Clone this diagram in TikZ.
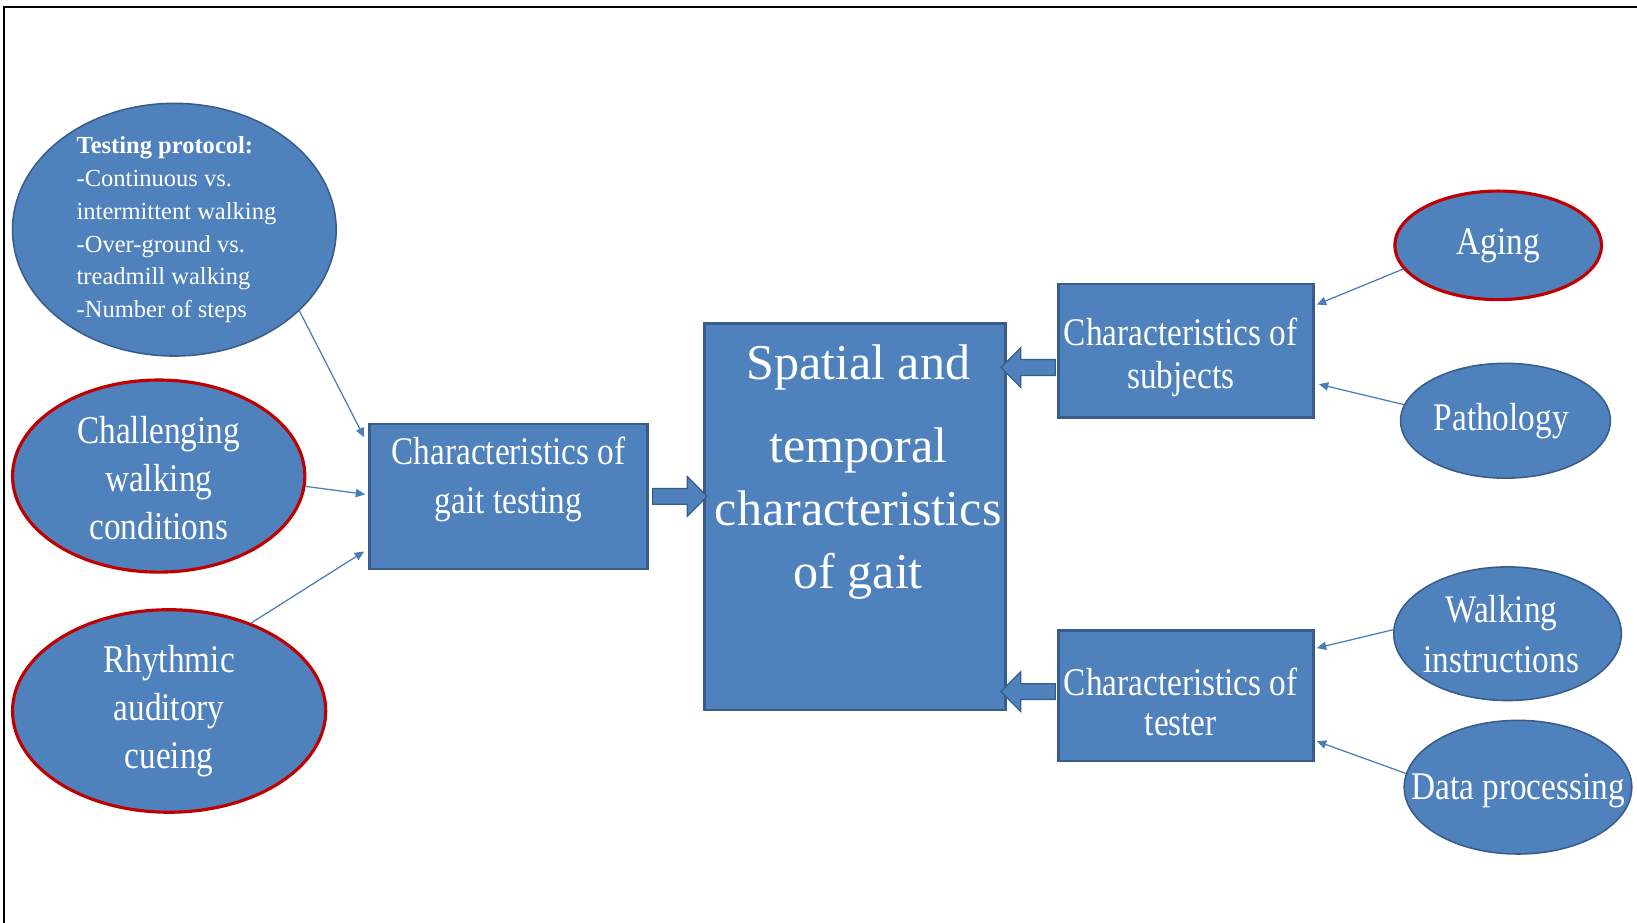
\documentclass[tikz,border=0pt]{standalone}
\usepackage{fontspec}
\setmainfont{Liberation Serif}
\newfontfamily\narrowfont{Liberation Serif}[FakeStretch=0.85]
\usetikzlibrary{shapes.geometric,shapes.arrows,arrows.meta}
\definecolor{boxblue}{HTML}{4F81BD}
\definecolor{edgeblue}{HTML}{385D8A}
\definecolor{ringred}{HTML}{C00000}
\definecolor{lineblue}{HTML}{4A7EBB}
\begin{document}
\begin{tikzpicture}[x=1pt,y=-1pt,
    oval/.style={ellipse,fill=boxblue,draw=edgeblue,line width=1.5pt,inner sep=0pt},
    redoval/.style={oval,draw=ringred,line width=3pt},
    block/.style={rectangle,fill=boxblue,draw=edgeblue,line width=2.5pt,inner sep=0pt},
    txt/.style={text=white,align=center,inner sep=0pt,font=\narrowfont\fontsize{37.5}{46}\selectfont},
    boxtxt/.style={txt,font=\narrowfont\fontsize{37.5}{41}\selectfont},
    feed/.style={draw=lineblue,line width=1.2pt,-{Triangle[length=9pt,width=8pt]}},
    fat/.style={single arrow,fill=boxblue,draw=edgeblue,line width=1.2pt,text height=7pt,text depth=7pt,
        single arrow head extend=11.5pt,minimum height=52pt,inner sep=0pt}]
    \useasboundingbox (0,0) rectangle (1568,884);
    \draw[line width=2pt] (4,884) -- (4,7) -- (1568,7);

    % left side
    \node[oval,minimum width=310pt,minimum height=242pt,
        label={[text=white,align=left,inner sep=0pt,font=\fontsize{23.5}{31.5}\selectfont,xshift=2pt]center:{\textbf{Testing protocol:}\\-Continuous vs.\\intermittent walking\\-Over-ground vs.\\treadmill walking\\-Number of steps}}]
        (proto) at (167,220) {};
    \node[redoval,minimum width=280pt,minimum height=184pt,
        label={[txt,yshift=-2pt]center:{Challenging\\walking\\conditions}}] (chall) at (152,456) {};
    \node[redoval,minimum width=300pt,minimum height=194pt,
        label={[txt]center:{Rhythmic\\auditory\\cueing}}] (rhythm) at (162,681) {};

    % boxes
    \node[block,minimum width=266pt,minimum height=139pt,
        label={[boxtxt,font=\narrowfont\fontsize{37.5}{47}\selectfont,yshift=16pt]center:{Characteristics of\\gait testing}}] (gait) at (487,475.5) {};
    \node[block,minimum width=288pt,minimum height=370pt,
        label={[txt,font=\fontsize{48}{60}\selectfont,xshift=3pt,yshift=43pt]center:{Spatial and\\[20pt]temporal\\characteristics\\of gait}}] (center) at (819,495) {};
    \node[block,minimum width=244pt,minimum height=128pt,
        label={[boxtxt,xshift=-5pt,yshift=-6pt]center:{Characteristics of\\subjects}}] (subj) at (1136,336) {};
    \node[block,minimum width=244pt,minimum height=125pt,
        label={[boxtxt,font=\narrowfont\fontsize{37.5}{38}\selectfont,xshift=-5pt,yshift=-6pt]center:{Characteristics of\\tester}}] (tester) at (1136,666.5) {};

    % right side
    \node[redoval,minimum width=198pt,minimum height=104pt,label={[txt]center:Aging}] (aging) at (1435,235) {};
    \node[oval,minimum width=201pt,minimum height=110pt,label={[txt,xshift=-4pt]center:Pathology}] (patho) at (1442,403) {};
    \node[oval,minimum width=218pt,minimum height=128pt,
        label={[txt,font=\narrowfont\fontsize{37.5}{48}\selectfont,xshift=-6pt]center:{Walking\\instructions}}] (walk) at (1444,607) {};
    \node[oval,minimum width=218pt,minimum height=128pt,label={[txt,yshift=-3pt]center:Data processing}] (data) at (1454,754) {};

    % fat arrows into the centre
    \path (gait.east) -- (gait.east -| center.west) node[fat,midway] (fa) {};
    \coordinate (sa) at ([yshift=-16pt]subj.west);
    \path (sa) -- (sa -| center.east) node[fat,midway,shape border rotate=180] (fb) {};
    \coordinate (ta) at ([yshift=4pt]tester.west);
    \path (ta) -- (ta -| center.east) node[fat,midway,shape border rotate=180] (fc) {};

    % thin arrows
    \draw[feed] (proto.-33) -- ([xshift=-4pt,yshift=-14pt]gait.north west);
    \draw[feed] (chall.-4) -- ([xshift=-3pt,yshift=2pt]gait.west);
    \draw[feed] (rhythm.47) -- ([xshift=-4pt,yshift=18pt]gait.south west);
    \draw[feed] (aging.194) -- ([xshift=2pt,yshift=-21pt]subj.north east);
    \draw[feed] (patho.171) -- ([xshift=4pt,yshift=-32pt]subj.east);
    \draw[feed] (walk.178) -- ([xshift=2pt,yshift=-18pt]tester.north east);
    \draw[feed] (data.173) -- ([xshift=2pt,yshift=-43.5pt]tester.east);
\end{tikzpicture}
\end{document}
